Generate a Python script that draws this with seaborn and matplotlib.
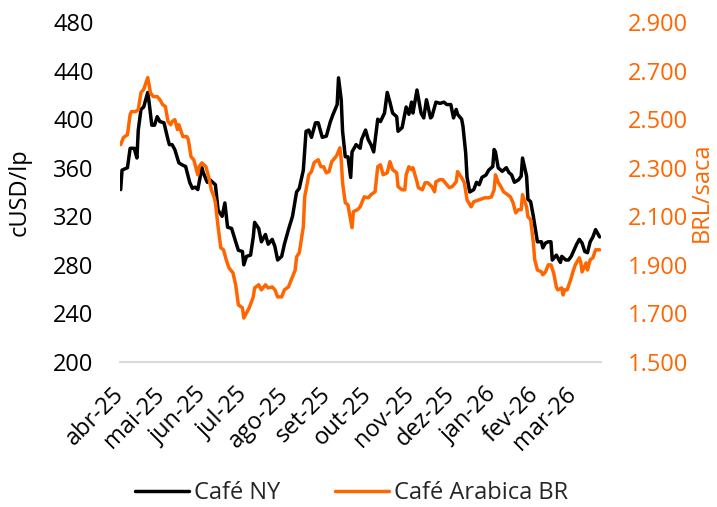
import numpy as np
import pandas as pd
import matplotlib
matplotlib.use("Agg")
import matplotlib.pyplot as plt
import matplotlib.ticker as mticker
import seaborn as sns

# Café NY (cUSD/lp) - days since 2025-04-01
ny_days = [0, 1, 5, 7, 10, 12, 13, 15, 17, 20, 21, 23, 25, 27, 29,
           32, 35, 36, 38, 40, 43, 46, 48, 51, 53, 55, 57, 60,
           61, 64, 66, 68, 70, 72, 75, 77, 79, 82, 85, 87, 90,
           91, 93, 96, 98, 99, 102, 104, 107, 109, 112, 114, 116, 119,
           121, 124, 127, 130, 132, 135, 137, 139, 141, 144, 146, 149,
           152, 155, 157, 160, 161, 163, 164, 166, 168, 170, 171, 174, 177, 178,
           181, 183, 185, 187, 190, 192, 195, 197, 199, 201, 204, 205, 208,
           211, 213, 215, 216, 219, 222, 224, 226, 229, 230, 233, 236, 239,
           241, 244, 246, 248, 249, 252, 253, 255, 256, 258, 261, 263, 265, 267, 270, 272,
           275, 276, 277, 279, 282, 285, 287, 289, 291, 294, 296, 297, 300,
           301, 303, 305, 307, 308, 311, 312, 314, 316, 318, 319, 322, 325, 326,
           329, 331, 333, 335, 337, 339, 341, 343, 345, 347, 349, 351, 352, 354]
ny_values = [342, 358, 360, 376, 376, 368, 391, 408, 410, 422, 414, 395, 395, 402, 398,
             397, 383, 379, 379, 375, 364, 362, 361, 348, 343, 344, 342, 360,
             356, 348, 350, 348, 346, 325, 320, 331, 311, 310, 299, 292, 291,
             280, 287, 288, 303, 315, 310, 299, 305, 297, 301, 295, 284, 287,
             297, 309, 320, 340, 343, 358, 390, 391, 385, 397, 397, 385,
             386, 398, 404, 412, 434, 416, 390, 369, 369, 352, 373, 379, 376, 383,
             391, 383, 379, 373, 400, 398, 405, 422, 414, 405, 402, 390, 393,
             410, 404, 414, 405, 424, 405, 401, 416, 401, 402, 414, 413, 414,
             412, 412, 401, 408, 404, 400, 394, 372, 352, 340, 342, 348, 346, 352, 354, 358,
             361, 375, 373, 360, 357, 360, 356, 354, 348, 350, 353, 368, 353,
             334, 332, 320, 306, 299, 299, 294, 298, 299, 299, 284, 288, 282, 287,
             284, 284, 287, 292, 297, 301, 298, 291, 290, 299, 303, 309, 307, 303]

# Café Arabica BR (BRL/saca)
br_days = [0, 2, 5, 7, 8, 11, 13, 15, 17, 20, 21, 22, 24, 27, 29,
           31, 33, 35, 37, 38, 40, 42, 43, 46, 49, 50, 52, 54, 57, 58, 60,
           63, 65, 67, 69, 70, 72, 74, 76, 78, 80, 83, 85, 87, 90,
           91, 93, 95, 98, 99, 102, 104, 107, 109, 112, 114, 116, 119,
           121, 124, 127, 129, 130, 132, 135, 136, 138, 139, 141, 143, 146, 148,
           150, 152, 154, 156, 159, 160, 162, 163, 164, 166, 168, 169, 171, 172,
           175, 177, 180, 183, 185, 188, 190, 192, 194, 197, 199, 201, 204, 205,
           208, 210, 211, 213, 215, 216, 219, 220, 223, 225, 227, 230, 232, 233,
           236, 238, 241, 243, 245, 248, 249, 252, 254, 256, 259, 261, 265, 269, 272, 274,
           276, 277, 279, 281, 283, 286, 288, 290, 292, 294, 296, 297, 300,
           301, 303, 305, 306, 308, 311, 312, 314, 316, 318, 320, 322, 323, 326,
           327, 328, 330, 333, 334, 336, 339, 340, 341, 344, 345, 347, 349, 351, 354]
br_values = [2395, 2424, 2436, 2519, 2531, 2531, 2539, 2609, 2622, 2671, 2642, 2609, 2593, 2593, 2580,
             2560, 2552, 2490, 2477, 2490, 2498, 2457, 2477, 2428, 2428, 2415, 2345, 2333, 2271, 2304, 2320,
             2304, 2263, 2209, 2180, 2156, 2057, 1970, 1962, 1921, 1888, 1867, 1818, 1735, 1723,
             1681, 1702, 1723, 1768, 1805, 1818, 1797, 1818, 1805, 1809, 1797, 1768, 1768,
             1797, 1809, 1851, 1879, 1933, 1950, 2057, 2180, 2238, 2270, 2284, 2321, 2333, 2304,
             2304, 2279, 2284, 2325, 2345, 2354, 2382, 2333, 2238, 2156, 2147, 2114, 2053, 2119,
             2127, 2139, 2180, 2176, 2189, 2201, 2304, 2312, 2271, 2279, 2325, 2292, 2279, 2222,
             2209, 2209, 2271, 2304, 2292, 2300, 2242, 2218, 2209, 2238, 2238, 2222, 2201, 2242,
             2251, 2251, 2230, 2218, 2222, 2242, 2284, 2259, 2238, 2168, 2139, 2160, 2168, 2176, 2176, 2180,
             2209, 2271, 2240, 2222, 2201, 2189, 2180, 2156, 2114, 2127, 2127, 2189, 2139,
             2098, 2086, 1991, 1921, 1879, 1871, 1859, 1871, 1900, 1900, 1867, 1809, 1797, 1805,
             1776, 1797, 1797, 1846, 1867, 1900, 1929, 1912, 1871, 1908, 1879, 1921, 1929, 1962, 1962]

month_ticks = ["2025-04-01", "2025-05-01", "2025-06-01", "2025-07-01", "2025-08-01", "2025-09-01",
               "2025-10-01", "2025-11-01", "2025-12-01", "2026-01-01", "2026-02-01", "2026-03-01"]
month_labels = ["abr-25", "mai-25", "jun-25", "jul-25", "ago-25", "set-25",
                "out-25", "nov-25", "dez-25", "jan-26", "fev-26", "mar-26"]

start = pd.Timestamp("2025-04-01")
ny = pd.DataFrame({"data": start + pd.to_timedelta(ny_days, unit="D"), "valor": ny_values})
br = pd.DataFrame({"data": start + pd.to_timedelta(br_days, unit="D"), "valor": br_values})

sns.set_theme(style="white")
plt.rcParams["font.family"] = ["Open Sans", "DejaVu Sans"]

BLACK = "#000000"
ORANGE = "#FF6600"
FS = 17

fig = plt.figure(figsize=(7.17, 5.07), dpi=100)
ax = fig.add_axes([120 / 717, 1 - 362 / 507, 481 / 717, 340 / 507])
ax2 = ax.twinx()

sns.lineplot(data=ny, x="data", y="valor", ax=ax, color=BLACK, lw=2.5, label="Café NY", legend=False)
sns.lineplot(data=br, x="data", y="valor", ax=ax2, color=ORANGE, lw=2.5, label="Café Arabica BR", legend=False)

ax.set_xlim(start - pd.Timedelta(days=0.5), start + pd.Timedelta(days=355))
ax.set_ylim(200, 480)
ax.set_yticks(range(200, 481, 40))
ax2.set_ylim(1500, 2900)
ax2.set_yticks(range(1500, 2901, 200))
ax2.yaxis.set_major_formatter(mticker.FuncFormatter(lambda v, p: f"{v:,.0f}".replace(",", ".")))

ax.set_xticks(pd.to_datetime(month_ticks))
ax.set_xticklabels(month_labels)
ax.tick_params(axis="x", length=0, pad=21, labelsize=FS, colors=BLACK)
plt.setp(ax.get_xticklabels(), rotation=45, ha="right", va="center", rotation_mode="anchor")
ax.tick_params(axis="y", length=0, pad=19, labelsize=FS, colors=BLACK)
ax2.tick_params(axis="y", length=0, pad=19, labelsize=FS, colors=ORANGE)

ax.set_xlabel("")
ax.set_ylabel("cUSD/lp", fontsize=FS, color=BLACK)
ax.yaxis.set_label_coords(-0.183, 0.5)
ax2.set_ylabel("BRL/saca", fontsize=FS, color=ORANGE)
ax2.yaxis.set_label_coords(1.184, 0.5)

for a in (ax, ax2):
    for s in ("top", "left", "right"):
        a.spines[s].set_visible(False)
    a.grid(False)
ax.spines["bottom"].set_color("#d9d9d9")
ax.spines["bottom"].set_linewidth(1.5)
ax2.spines["bottom"].set_visible(False)

h1, l1 = ax.get_legend_handles_labels()
h2, l2 = ax2.get_legend_handles_labels()
fig.legend(h1 + h2, l1 + l2, loc="center", bbox_to_anchor=(0.49, 0.028), ncol=2,
           frameon=False, fontsize=FS, handlelength=2.3, handletextpad=0.2, columnspacing=2.3)

fig.savefig("out.png", dpi=100)
